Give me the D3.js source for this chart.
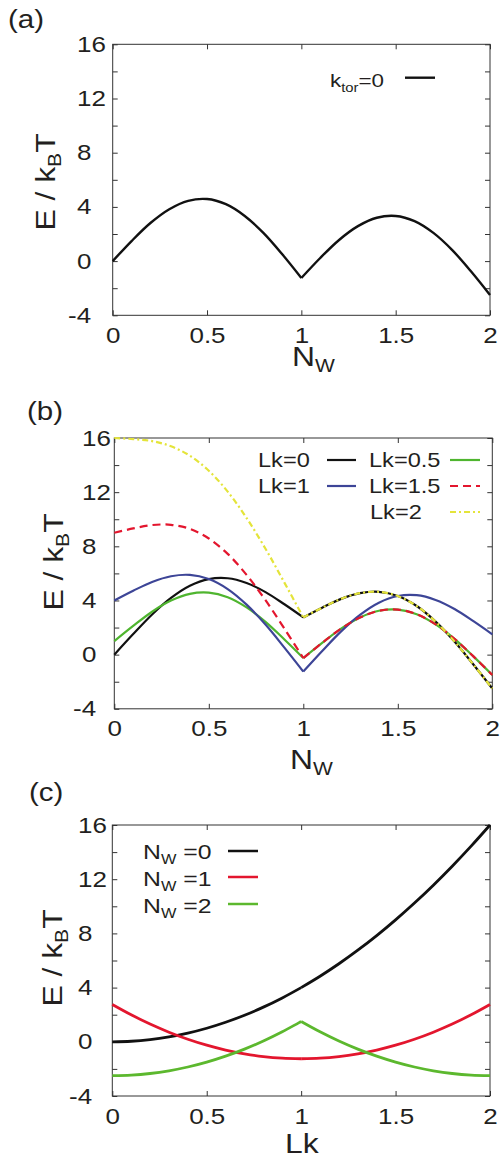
<!DOCTYPE html>
<html>
<head>
<meta charset="utf-8">
<script src="https://cdn.jsdelivr.net/npm/d3@7"></script>
<style>
	body { margin: 0; background: #fff; }
	svg { display: block; font-family: "Liberation Sans", Arial, sans-serif; }
</style>
</head>
<body>
<div id="graph"></div>
<script>
// shared x grid (N_W in a and b, Lk in c)
const grid = [0, 0.1, 0.2, 0.3, 0.4, 0.5, 0.6, 0.7, 0.8, 0.9, 1, 1.1, 1.2, 1.3, 1.4, 1.5, 1.6, 1.7, 1.8, 1.9, 2];
const xTicks = [0, 0.5, 1, 1.5, 2];
const yTicks = [-4, -2, 0, 2, 4, 6, 8, 10, 12, 14, 16];

// (a) k_tor = 0
const eKtor0 = [0, 1.48, 2.81, 3.83, 4.45, 4.58, 4.2, 3.33, 2.06, 0.48, -1.25, 0.23, 1.56, 2.58, 3.2, 3.33, 2.95, 2.08, 0.81, -0.77, -2.5];

// (b) E vs N_W for several Lk
const eLk0 = [0, 1.52, 2.97, 4.19, 5.09, 5.58, 5.64, 5.29, 4.62, 3.72, 2.75, 3.47, 4.12, 4.54, 4.64, 4.33, 3.59, 2.44, 0.97, -0.73, -2.5];
const eLk05 = [1.0, 2.12, 3.17, 3.99, 4.49, 4.58, 4.24, 3.49, 2.42, 1.12, -0.25, 0.87, 1.92, 2.74, 3.24, 3.33, 2.99, 2.24, 1.17, -0.13, -1.5];
const eLk1 = [4.0, 4.72, 5.37, 5.79, 5.89, 5.58, 4.84, 3.69, 2.22, 0.52, -1.25, 0.27, 1.72, 2.94, 3.84, 4.33, 4.39, 4.04, 3.37, 2.47, 1.5];
const eLk15 = [9.0, 9.32, 9.57, 9.59, 9.29, 8.58, 7.44, 5.89, 4.02, 1.92, -0.25, 0.87, 1.92, 2.74, 3.24, 3.33, 2.99, 2.24, 1.17, -0.13, -1.5];
const eLk2 = [16.0, 15.92, 15.77, 15.39, 14.69, 13.58, 12.04, 10.09, 7.82, 5.32, 2.75, 3.47, 4.12, 4.54, 4.64, 4.33, 3.59, 2.44, 0.97, -0.73, -2.5];

// (c) E vs Lk for N_W = 0, 1, 2
const eNw0 = [0, 0.04, 0.16, 0.36, 0.64, 1.0, 1.44, 1.96, 2.56, 3.24, 4.0, 4.84, 5.76, 6.76, 7.84, 9.0, 10.24, 11.56, 12.96, 14.44, 16.0];
const eNw1 = [2.75, 1.99, 1.31, 0.71, 0.19, -0.25, -0.61, -0.89, -1.09, -1.21, -1.25, -1.21, -1.09, -0.89, -0.61, -0.25, 0.19, 0.71, 1.31, 1.99, 2.75];
const eNw2 = [-2.5, -2.46, -2.34, -2.14, -1.86, -1.5, -1.06, -0.54, 0.06, 0.74, 1.5, 0.74, 0.06, -0.54, -1.06, -1.5, -1.86, -2.14, -2.34, -2.46, -2.5];

const width = 504;
const height = 1159;
const ink = "#231f20";
const stretch = 1.18; // lettering in the figure is wider than plain Arial

const svg = d3
	.select("#graph")
	.append("svg")
	.attr("width", width)
	.attr("height", height)
	.attr("viewBox", [0, 0, width, height]);

// text with optional subscripts: parts = [[string, isSub], ...]
function label(g, x, y, parts, { size, anchor = "start", rotate = 0 } = {}) {
	const t = g
		.append("text")
		.attr("transform", `translate(${x},${y})` + (rotate ? ` rotate(${rotate})` : "") + ` scale(${stretch},1)`)
		.attr("font-size", size)
		.attr("text-anchor", anchor)
		.attr("fill", ink);
	let down = false;
	parts.forEach(([s, sub]) => {
		const dy = sub && !down ? 0.24 * size : !sub && down ? -0.24 * size : 0;
		t.append("tspan").attr("dy", dy).attr("font-size", sub ? size * 0.66 : size).text(s);
		down = !!sub;
	});
	return t;
}

function Panel({ frame, tag, xLabel, yLabelPos, tickStart, series, legend }) {
	const [left, right, top, bottom] = frame;
	const x = d3.scaleLinear([0, 2], [left, right]);
	const y = d3.scaleLinear([-4, 16], [bottom, top]);
	const g = svg.append("g");

	// inward ticks on all four sides
	const styleTicks = (a) => a.call((s) => s.select(".domain").remove())
		.call((s) => s.selectAll(".tick line").attr("stroke", "#333"));

	g.append("g")
		.attr("transform", `translate(0,${bottom})`)
		.call(d3.axisBottom(x).tickValues(xTicks).tickSize(-5).tickPadding(12).tickFormat((d) => d))
		.call(styleTicks)
		.call((s) => s.selectAll(".tick text")
			.attr("font-size", 22)
			.attr("font-family", null)
			.attr("fill", ink)
			.attr("transform", `scale(${stretch},1)`));

	g.append("g")
		.attr("transform", `translate(0,${top})`)
		.call(d3.axisTop(x).tickValues(xTicks).tickSize(-5).tickFormat(""))
		.call(styleTicks);

	g.append("g")
		.attr("transform", `translate(${left},0)`)
		.call(d3.axisLeft(y).tickValues(yTicks).tickSize(-5).tickFormat((d) => (d % 4 === 0 ? d : "")))
		.call(styleTicks)
		.call((s) => s.selectAll(".tick text")
			.attr("font-size", 22)
			.attr("font-family", null)
			.attr("fill", ink)
			.attr("text-anchor", "start")
			.attr("x", null)
			.attr("transform", (d) => `translate(${tickStart - left - (d < 0 ? 9 : 0)},0) scale(${stretch},1)`));

	g.append("g")
		.attr("transform", `translate(${right},0)`)
		.call(d3.axisRight(y).tickValues(yTicks).tickSize(-5).tickFormat(""))
		.call(styleTicks);

	g.append("rect")
		.attr("x", left)
		.attr("y", top)
		.attr("width", right - left)
		.attr("height", bottom - top)
		.attr("fill", "none")
		.attr("stroke", "#333")
		.attr("stroke-width", 1);

	// curves, split at the cusp at x = 1
	const halves = [d3.range(0, 11), d3.range(10, 21)];

	series.forEach((s) => {
		const line = d3.line()
			.x((i) => x(grid[i]))
			.y((i) => y(s.values[i]))
			.curve(d3.curveCatmullRom.alpha(0.5));
		halves.forEach((idx) => {
			g.append("path")
				.attr("d", line(idx))
				.attr("fill", "none")
				.attr("stroke", s.color)
				.attr("stroke-width", s.width)
				.attr("stroke-dasharray", s.dash || null);
		});
	});

	// key
	legend.forEach((k) => {
		label(g, k.tx, k.ty, k.parts, { size: k.size });
		g.append("line")
			.attr("x1", k.lx[0])
			.attr("x2", k.lx[1])
			.attr("y1", k.ly)
			.attr("y2", k.ly)
			.attr("stroke", k.color)
			.attr("stroke-width", k.width)
			.attr("stroke-dasharray", k.dash || null);
	});

	label(g, tag.x, tag.y, [[tag.text]], { size: 25 });
	label(g, xLabel.x, xLabel.y, xLabel.parts, { size: 27 });
	label(g, yLabelPos.x, yLabelPos.y, [["E / k"], ["B", true], ["T"]], { size: 27, anchor: "middle", rotate: -90 });
}

const cBlack = "#111111";
const cGreen = "#4fb52f";
const cBlue = "#3d4597";
const cRed = "#e3162e";
const cYellow = "#e4e43a";

Panel({
	frame: [112.7, 490, 44.3, 315.3],
	tag: { text: "(a)", x: 8, y: 28 },
	xLabel: { x: 292, y: 366, parts: [["N"], ["W", true]] },
	yLabelPos: { x: 55, y: 182 },
	tickStart: 77,
	series: [{ values: eKtor0, color: cBlack, width: 2.4 }],
	legend: [
		{ tx: 330, ty: 87, size: 19, parts: [["k"], ["tor", true], ["=0"]], lx: [405, 435], ly: 77.7, color: cBlack, width: 2.4 },
	],
});

Panel({
	frame: [114.3, 492.3, 438, 708.8],
	tag: { text: "(b)", x: 27, y: 420 },
	xLabel: { x: 290, y: 769, parts: [["N"], ["W", true]] },
	yLabelPos: { x: 63, y: 562 },
	tickStart: 82,
	series: [
		{ values: eLk0, color: cBlack, width: 2.2 },
		{ values: eLk05, color: cGreen, width: 2.2 },
		{ values: eLk1, color: cBlue, width: 2.2 },
		{ values: eLk15, color: cRed, width: 2.2, dash: "8,5" },
		{ values: eLk2, color: cYellow, width: 2.2, dash: "6,3,2,3" },
	],
	legend: [
		{ tx: 258, ty: 467, size: 20, parts: [["Lk=0"]], lx: [327, 356], ly: 460, color: cBlack, width: 2.2 },
		{ tx: 369, ty: 467, size: 20, parts: [["Lk=0.5"]], lx: [450, 480], ly: 460, color: cGreen, width: 2.2 },
		{ tx: 258, ty: 493, size: 20, parts: [["Lk=1"]], lx: [327, 356], ly: 486, color: cBlue, width: 2.2 },
		{ tx: 369, ty: 493, size: 20, parts: [["Lk=1.5"]], lx: [450, 480], ly: 486, color: cRed, width: 2.2, dash: "8,5" },
		{ tx: 370, ty: 519, size: 20, parts: [["Lk=2"]], lx: [450, 480], ly: 512, color: cYellow, width: 2.2, dash: "6,3,2,3" },
	],
});

Panel({
	frame: [112.3, 490, 825, 1096],
	tag: { text: "(c)", x: 29, y: 801 },
	xLabel: { x: 285, y: 1153, parts: [["Lk"]] },
	yLabelPos: { x: 62, y: 958 },
	tickStart: 78,
	series: [
		{ values: eNw0, color: cBlack, width: 2.8 },
		{ values: eNw1, color: cRed, width: 2.8 },
		{ values: eNw2, color: "#5cb82e", width: 2.8 },
	],
	legend: [
		{ tx: 143, ty: 859, size: 21, parts: [["N"], ["W", true], [" =0"]], lx: [228, 258], ly: 851, color: cBlack, width: 2.5 },
		{ tx: 143, ty: 886, size: 21, parts: [["N"], ["W", true], [" =1"]], lx: [228, 258], ly: 877, color: cRed, width: 2.5 },
		{ tx: 143, ty: 913, size: 21, parts: [["N"], ["W", true], [" =2"]], lx: [228, 258], ly: 904, color: "#5cb82e", width: 2.5 },
	],
});
</script>
</body>
</html>
